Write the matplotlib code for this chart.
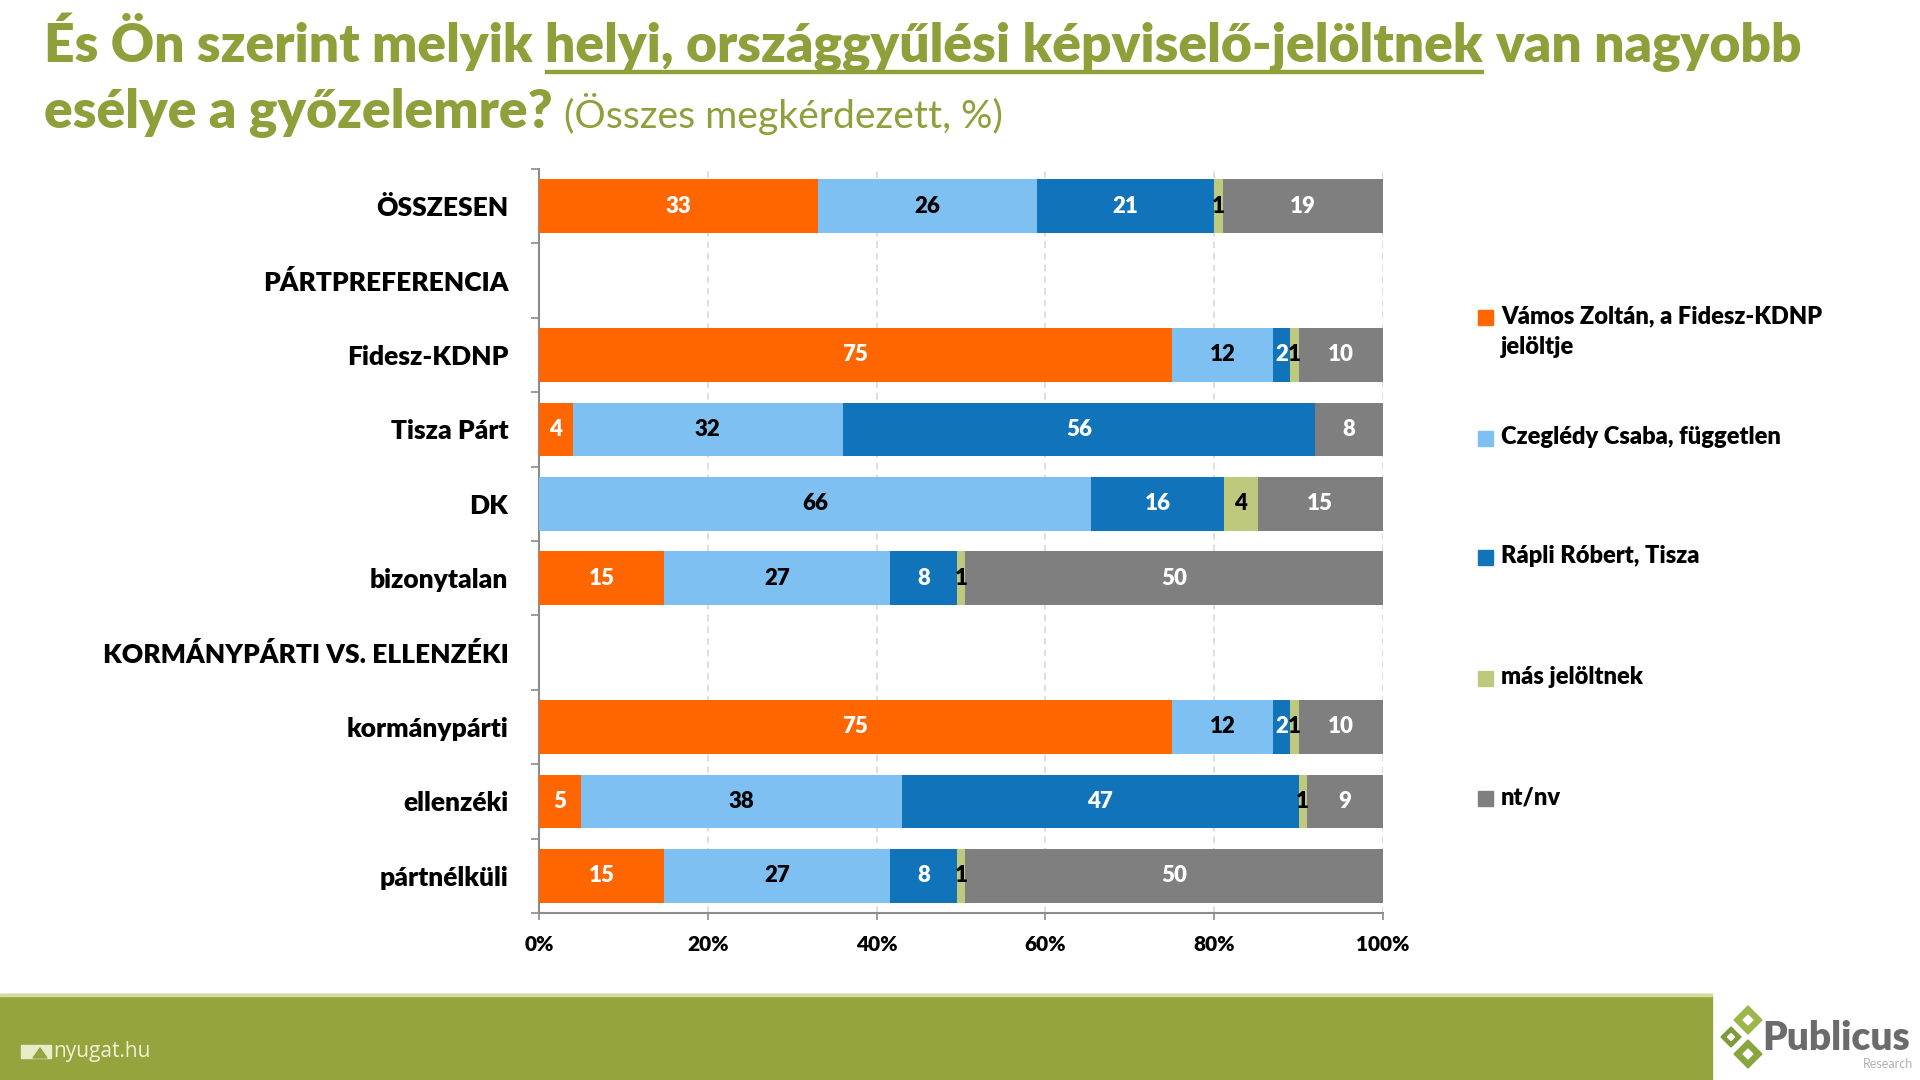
import matplotlib
matplotlib.use("Agg")
import matplotlib.pyplot as plt
from matplotlib.patches import Rectangle, Polygon
import numpy as np

plt.rcParams['font.family'] = ['Lato', 'DejaVu Sans']

# ---------------- data ----------------
categories = ["ÖSSZESEN", "PÁRTPREFERENCIA", "Fidesz-KDNP", "Tisza Párt", "DK",
              "bizonytalan", "KORMÁNYPÁRTI VS. ELLENZÉKI", "kormánypárti",
              "ellenzéki", "pártnélküli"]
series_names = ["Vámos Zoltán, a Fidesz-KDNP\njelöltje", "Czeglédy Csaba, független",
                "Rápli Róbert, Tisza", "más jelöltnek", "nt/nv"]
vamos    = [33, None, 75, 4, 0, 15, None, 75, 5, 15]
czegledy = [26, None, 12, 32, 66, 27, None, 12, 38, 27]
rapli    = [21, None, 2, 56, 16, 8, None, 2, 47, 8]
mas      = [1, None, 1, 0, 4, 1, None, 1, 1, 1]
ntnv     = [19, None, 10, 8, 15, 50, None, 10, 9, 50]
xticks_vals = [0, 20, 40, 60, 80, 100]
xtick_labels = ["0%", "20%", "40%", "60%", "80%", "100%"]

series = [vamos, czegledy, rapli, mas, ntnv]
colors = ["#FF6600", "#7DC0F1", "#1173BA", "#BFC97E", "#7F7F7F"]
label_colors = ["white", "black", "white", "black", "white"]

BW = 'heavy'

W, H = 1920, 1080
fig = plt.figure(figsize=(19.2, 10.8), dpi=100)
fig.patch.set_facecolor("white")
renderer = fig.canvas.get_renderer()

def fx(px):
    return px / W

def fy(py):
    return 1 - py / H

# ---------------- axes ----------------
ax_left, ax_right, ax_top, ax_bottom = 539, 1383, 169, 913
ax = fig.add_axes([fx(ax_left), fy(ax_bottom), fx(ax_right - ax_left), (ax_bottom - ax_top) / H])

ypos = np.arange(len(categories))
for i in range(len(categories)):
    if series[0][i] is None:
        continue
    vals = [s[i] for s in series]
    tot = float(sum(vals))
    left = 0.0
    for k, v in enumerate(vals):
        w = v / tot * 100
        if v > 0:
            ax.barh(ypos[i], w, left=left, height=0.72, color=colors[k], edgecolor='none', zorder=3)
            ax.text(left + w / 2, ypos[i], str(v), ha='center', va='center',
                    color=label_colors[k], fontsize=16, fontweight=BW, zorder=4)
        left += w

ax.set_xlim(0, 100)
ax.set_ylim(len(categories) - 0.5, -0.5)
ax.set_yticks(ypos)
ax.set_yticklabels(categories, fontsize=19, fontweight=BW)
ax.set_yticks(np.arange(len(categories) + 1) - 0.5, minor=True)
ax.tick_params(axis='y', which='major', length=0, pad=22)
ax.tick_params(axis='y', which='minor', length=6, color='#8C8C8C', width=1.2, direction='out')
ax.set_xticks(xticks_vals)
ax.set_xticklabels(xtick_labels, fontsize=15, fontweight=BW)
ax.tick_params(axis='x', which='major', length=5, color='#8C8C8C', width=1.2, pad=11)
ax.grid(axis='x', linestyle=(0, (4, 3)), color='#D9D9D9', linewidth=1.2, zorder=0)
ax.set_axisbelow(True)
for sp in ['top', 'right']:
    ax.spines[sp].set_visible(False)
for sp in ['left', 'bottom']:
    ax.spines[sp].set_color('#8C8C8C')
    ax.spines[sp].set_linewidth(1.5)

# ---------------- title ----------------
green = "#8FA03A"
def text_w(s, **kw):
    t = fig.text(0, 0, s, **kw)
    w = t.get_window_extent(renderer).width
    t.remove()
    return w

line1 = "És Ön szerint melyik helyi, országgyűlési képviselő-jelöltnek van nagyobb"
fs_try = 32
w_try = text_w(line1, fontsize=fs_try, fontweight=BW)
tfs = fs_try * 1763 / w_try

x0 = 44
p1 = "És Ön szerint melyik"
p2 = "helyi, országgyűlési képviselő-jelöltnek"
p3 = "van nagyobb"
sp_w = text_w("x x", fontsize=tfs, fontweight=BW) - text_w("xx", fontsize=tfs, fontweight=BW)
w1 = text_w(p1, fontsize=tfs, fontweight=BW)
w2 = text_w(p2, fontsize=tfs, fontweight=BW)
base1 = 62
fig.text(fx(x0), fy(base1), p1, fontsize=tfs, fontweight=BW, color=green, va='baseline', ha='left')
xs2 = x0 + w1 + sp_w
fig.text(fx(xs2), fy(base1), p2, fontsize=tfs, fontweight=BW, color=green, va='baseline', ha='left')
xs3 = xs2 + w2 + sp_w
fig.text(fx(xs3), fy(base1), p3, fontsize=tfs, fontweight=BW, color=green, va='baseline', ha='left')
fig.patches.append(Rectangle((fx(xs2), fy(73)), fx(w2), 3.5 / H, transform=fig.transFigure,
                             color=green, zorder=5))

base2 = 128
l2 = "esélye a győzelemre?"
w_l2 = text_w(l2, fontsize=tfs, fontweight=BW)
fig.text(fx(x0), fy(base2), l2, fontsize=tfs, fontweight=BW, color=green, va='baseline', ha='left')
sub = "(Összes megkérdezett, %)"
sfs = 22 * 438 / text_w(sub, fontsize=22)
fig.text(fx(x0 + w_l2 + sp_w * 0.9), fy(base2), sub, fontsize=sfs, color=green, va='baseline', ha='left')

# ---------------- legend ----------------
leg_y = [317, 438, 557, 678, 798]
for k, name in enumerate(series_names):
    yc = leg_y[k]
    fig.patches.append(Rectangle((fx(1478), fy(yc + 8)), 15 / W, 15 / H, transform=fig.transFigure,
                                 color=colors[k]))
    fig.text(fx(1501), fy(yc - 12), name, fontsize=17, fontweight=BW, color='black',
             va='top', ha='left', linespacing=1.5)

# ---------------- footer ----------------
foot = "#97A43E"
fig.patches.append(Rectangle((0, 0), fx(1712), 86 / H, transform=fig.transFigure, color=foot, zorder=1))
fig.patches.append(Rectangle((0, fy(996)), fx(1712), 2 / H, transform=fig.transFigure, color="#D3DA9C", zorder=2))
# nyugat.hu icon and text
fig.patches.append(Rectangle((fx(21), fy(1058)), 30 / W, 13 / H, transform=fig.transFigure,
                             color="#E6EBC8", zorder=3))
fig.patches.append(Polygon([(fx(33), fy(1058)), (fx(40), fy(1048)), (fx(47), fy(1058))],
                           closed=True, transform=fig.transFigure, color=foot, zorder=4))
fig.text(fx(53), fy(1052), "nyugat.hu", fontsize=15, color="#EEF2D5", va='center', ha='left',
         family=['Open Sans', 'DejaVu Sans'])

# Publicus logo
def diamond(cx, cy, r, col, inner):
    fig.patches.append(Polygon([(fx(cx - r), fy(cy)), (fx(cx), fy(cy - r)), (fx(cx + r), fy(cy)),
                                (fx(cx), fy(cy + r))], closed=True, transform=fig.transFigure,
                               color=col, zorder=3))
    ri = r * inner
    fig.patches.append(Polygon([(fx(cx - ri), fy(cy)), (fx(cx), fy(cy - ri)), (fx(cx + ri), fy(cy)),
                                (fx(cx), fy(cy + ri))], closed=True, transform=fig.transFigure,
                               color="white", zorder=4))

diamond(1748, 1020, 14, "#9DB54A", 0.35)
diamond(1731, 1037, 10, "#7E9B3A", 0.35)
diamond(1748, 1054, 14, "#8AA540", 0.35)
fig.text(fx(1762), fy(1038), "Publicus", fontsize=28, fontweight=BW, color="#6B6B6B",
         va='center', ha='left')
fig.text(fx(1913), fy(1064), "Research", fontsize=9, color="#B0B0B0", va='center', ha='right')

fig.savefig("out.png", dpi=100, facecolor="white")
